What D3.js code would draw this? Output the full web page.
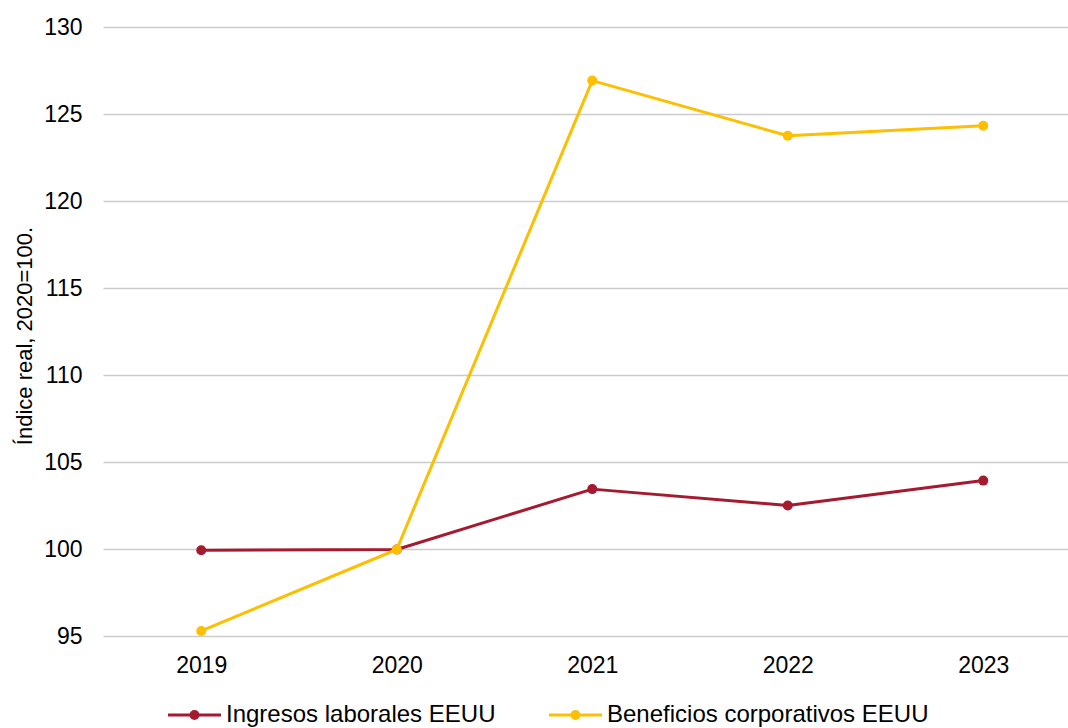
<!DOCTYPE html>
<html>
<head>
<meta charset="utf-8">
<script src="https://cdn.jsdelivr.net/npm/d3@7"></script>
<style>
  body { margin: 0; background: #fff; }
  svg { display: block; font-family: "Liberation Sans", Arial, sans-serif; }
</style>
</head>
<body>
<svg id="chart" width="1068" height="728"></svg>
<script>
const years = ["2019", "2020", "2021", "2022", "2023"];
const ingresos = [99.96, 100.0, 103.47, 102.53, 103.96];
const beneficios = [95.32, 100.0, 126.95, 123.78, 124.35];
const yTicks = [95, 100, 105, 110, 115, 120, 125, 130];

const series = [
  {name: "Ingresos laborales EEUU", values: ingresos, color: "#a51a2f"},
  {name: "Beneficios corporativos EEUU", values: beneficios, color: "#fdbf00"}
];

const width = 1068, height = 728;
const margin = {top: 27.5, right: -13, bottom: 91.5, left: 103.5};

const svg = d3.select("#chart");

const x = d3.scalePoint()
  .domain(years)
  .range([margin.left, width - margin.right])
  .padding(0.5);

const y = d3.scaleLinear()
  .domain([95, 130])
  .range([height - margin.bottom, margin.top]);

// gridlines
svg.append("g")
  .selectAll("line")
  .data(yTicks)
  .join("line")
  .attr("x1", margin.left)
  .attr("x2", width - margin.right)
  .attr("y1", d => y(d))
  .attr("y2", d => y(d))
  .attr("stroke", "#c9cbcd")
  .attr("stroke-width", 1.5);

// y axis
svg.append("g")
  .attr("transform", `translate(${margin.left - 21},0)`)
  .call(d3.axisLeft(y).tickValues(yTicks).tickSize(0).tickPadding(0))
  .call(g => g.select(".domain").remove())
  .call(g => g.selectAll("text")
    .attr("font-family", "Liberation Sans, Arial, sans-serif")
    .attr("font-size", 23)
    .attr("fill", "#000"));

// x axis
svg.append("g")
  .attr("transform", `translate(0,673)`)
  .call(d3.axisBottom(x).tickSize(0).tickPadding(0))
  .call(g => g.select(".domain").remove())
  .call(g => g.selectAll("text")
    .attr("dy", 0)
    .attr("font-family", "Liberation Sans, Arial, sans-serif")
    .attr("font-size", 23)
    .attr("fill", "#000"));

// y label
svg.append("text")
  .attr("transform", "translate(32,336) rotate(-90)")
  .attr("text-anchor", "middle")
  .attr("font-size", 22)
  .attr("fill", "#000")
  .text("Índice real, 2020=100.");

const line = d3.line()
  .x((d, i) => x(years[i]))
  .y(d => y(d));

series.forEach(s => {
  svg.append("path")
    .datum(s.values)
    .attr("fill", "none")
    .attr("stroke", s.color)
    .attr("stroke-width", 3)
    .attr("stroke-linejoin", "round")
    .attr("d", line);
  svg.append("g")
    .selectAll("circle")
    .data(s.values)
    .join("circle")
    .attr("cx", (d, i) => x(years[i]))
    .attr("cy", d => y(d))
    .attr("r", 5)
    .attr("fill", s.color);
});

// legend
const legendX = [168, 549];
const legend = svg.append("g");
series.forEach((s, i) => {
  const g = legend.append("g").attr("transform", `translate(${legendX[i]},715)`);
  g.append("line")
    .attr("x1", 0).attr("x2", 53)
    .attr("stroke", s.color).attr("stroke-width", 3);
  g.append("circle").attr("cx", 26.5).attr("r", 5).attr("fill", s.color);
  g.append("text")
    .attr("x", 58)
    .attr("y", 0)
    .attr("dy", "0.3em")
    .attr("font-size", 24)
    .attr("fill", "#000")
    .text(s.name);
});
</script>
</body>
</html>
